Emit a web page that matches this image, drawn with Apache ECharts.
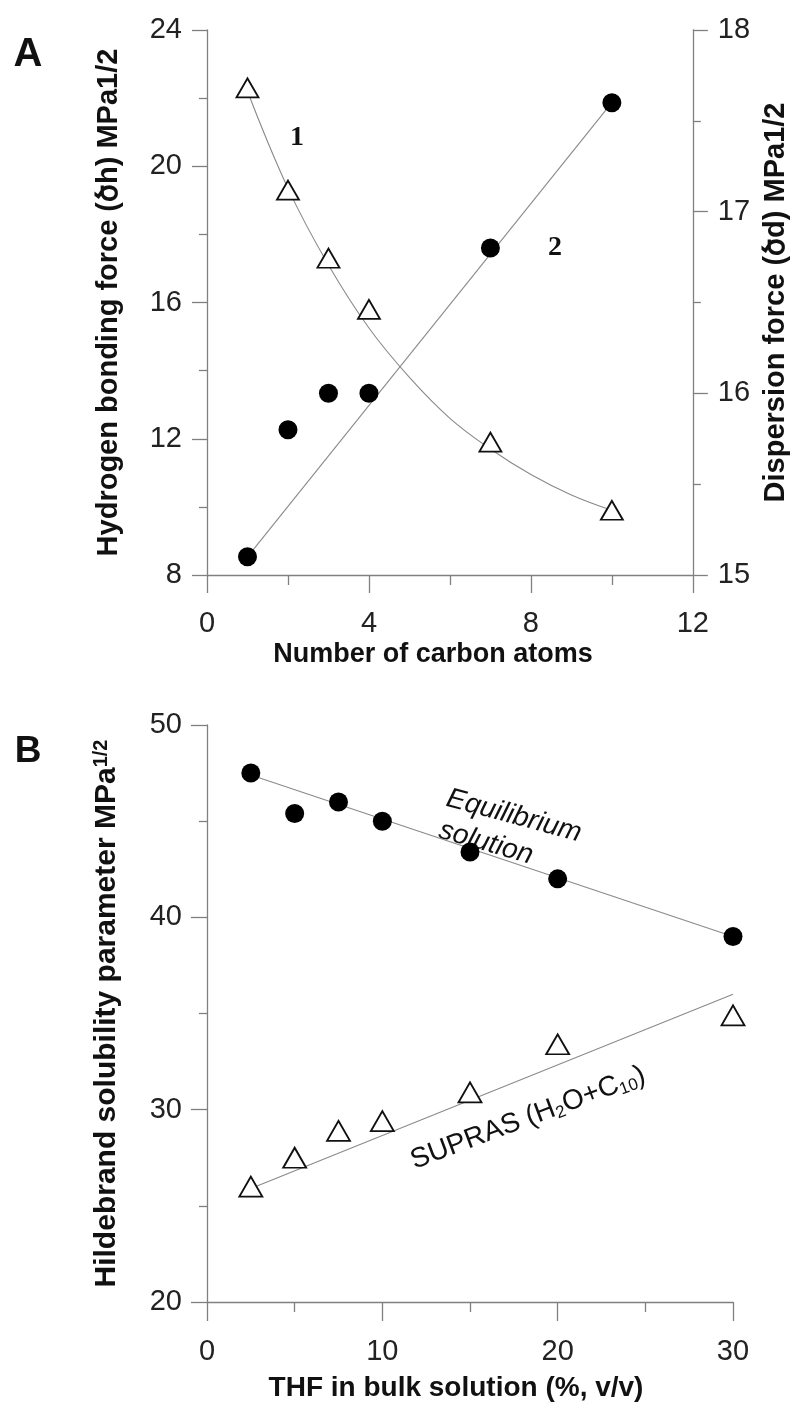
<!DOCTYPE html>
<html>
<head>
<meta charset="utf-8">
<script src="https://cdn.jsdelivr.net/npm/echarts@6/dist/echarts.min.js"></script>
<style>
  html, body { margin: 0; padding: 0; background: #fff; }
  #fig { width: 798px; height: 1407px; }
</style>
</head>
<body>
<div id="fig"></div>
<script>
// Panel A: alcohols, number of carbon atoms
var carbonAtoms = [1, 2, 3, 4, 7, 10];
var hydrogenBonding = [22.3, 19.3, 17.3, 15.8, 11.9, 9.9];   // triangles, left axis
var dispersion = [15.1, 15.8, 16.0, 16.0, 16.8, 17.6];        // circles, right axis
// fitted curves
var fit1X = [1, 2, 3, 4, 5, 6, 7, 8, 9, 10];
var fit1Y = [22.2, 19.35, 17.1, 15.25, 13.8, 12.6, 11.7, 10.95, 10.35, 9.9];
var fit2X = [1, 10];
var fit2Y = [15.1, 17.6];

// Panel B: THF content
var thf = [2.5, 5, 7.5, 10, 15, 20, 30];
var equilibrium = [47.5, 45.4, 46.0, 45.0, 43.4, 42.0, 39.0];
var supras = [26.0, 27.5, 28.9, 29.4, 30.9, 33.4, 34.9];
var fitEqX = [2.5, 30];
var fitEqY = [47.4, 39.0];
var fitSupX = [2.5, 30];
var fitSupY = [25.9, 36.0];

function pairs(xs, ys) {
  return xs.map(function (x, i) { return [x, ys[i]]; });
}

var FONT = "'Liberation Sans', Arial, sans-serif";
var AXIS_COLOR = '#808080';
var LINE_COLOR = '#8a8a8a';

function axis(extra, tickLen, minorLen) {
  var base = {
    type: 'value',
    axisLine: { show: true, onZero: false, lineStyle: { color: AXIS_COLOR, width: 1.3 } },
    axisTick: { show: true, length: tickLen, lineStyle: { color: AXIS_COLOR, width: 1.3 } },
    minorTick: { show: true, splitNumber: 2, length: minorLen, lineStyle: { color: AXIS_COLOR, width: 1.3 } },
    splitLine: { show: false },
    minorSplitLine: { show: false },
    axisLabel: { fontSize: 29, color: '#222', fontFamily: FONT, showMinLabel: true, showMaxLabel: true },
    nameLocation: 'middle',
    nameTextStyle: { fontSize: 28, fontWeight: 'bold', color: '#111', fontFamily: FONT }
  };
  for (var k in extra) {
    if (typeof extra[k] === 'object' && base[k] && !Array.isArray(extra[k])) {
      base[k] = Object.assign({}, base[k], extra[k]);
    } else {
      base[k] = extra[k];
    }
  }
  return base;
}

var triangle = {
  type: 'scatter', symbol: 'triangle', symbolSize: [22, 19], z: 5,
  itemStyle: { color: '#fff', borderColor: '#111', borderWidth: 1.8, opacity: 1 }
};
var dot = {
  type: 'scatter', symbol: 'circle', symbolSize: 19, z: 5,
  itemStyle: { color: '#000', opacity: 1 }
};
var fitLine = {
  type: 'line', showSymbol: false, symbol: 'none', z: 2, silent: true,
  lineStyle: { color: LINE_COLOR, width: 1.1 }
};

var option = {
  backgroundColor: '#fff',
  animation: false,
  grid: [
    { left: 207, top: 30, width: 496, height: 545 },
    { left: 207, top: 725, width: 526, height: 577 }
  ],
  xAxis: [
    axis({
      gridIndex: 0, min: 0, max: 12, interval: 4,
      axisLabel: { margin: 34 },
      name: 'Number of carbon atoms', nameGap: 66,
      nameTextStyle: { fontSize: 27, padding: [0, 34, 0, 0] }
    }, 18, 10),
    axis({
      gridIndex: 1, min: 0, max: 30, interval: 10,
      axisLabel: { margin: 35 },
      name: 'THF in bulk solution (%, v/v)', nameGap: 72,
      nameTextStyle: { fontSize: 28, padding: [0, 28, 0, 0] }
    }, 19, 10)
  ],
  yAxis: [
    axis({
      gridIndex: 0, min: 8, max: 24, interval: 4, position: 'left',
      axisLabel: { margin: 25 },
      name: 'Hydrogen bonding force (\u056Eh) MPa1/2', nameGap: 84, nameRotate: 90,
      nameTextStyle: { fontSize: 29 }
    }, 15, 8),
    axis({
      gridIndex: 0, min: 15, max: 18, interval: 1, position: 'right',
      axisLabel: { margin: 25 },
      name: 'Dispersion force (\u056Ed) MPa1/2', nameGap: 66, nameRotate: 90,
      nameTextStyle: { fontSize: 29 }
    }, 15, 8),
    axis({
      gridIndex: 1, min: 20, max: 50, interval: 10, position: 'left',
      axisLabel: { margin: 25 },
      name: '{t|Hildebrand solubility parameter MPa}{s|1/2}', nameGap: 84, nameRotate: 90,
      nameTextStyle: {
        rich: {
          t: { fontSize: 30, fontWeight: 'bold', color: '#111', fontFamily: FONT, lineHeight: 32 },
          s: { fontSize: 20, fontWeight: 'bold', color: '#111', fontFamily: FONT, lineHeight: 20, verticalAlign: 'top' }
        }
      }
    }, 16, 8)
  ],
  series: [
    Object.assign({}, fitLine, { xAxisIndex: 0, yAxisIndex: 0, smooth: 0.4, data: pairs(fit1X, fit1Y) }),
    Object.assign({}, fitLine, { xAxisIndex: 0, yAxisIndex: 1, data: pairs(fit2X, fit2Y) }),
    Object.assign({}, triangle, { name: 'hydrogen bonding', xAxisIndex: 0, yAxisIndex: 0, data: pairs(carbonAtoms, hydrogenBonding) }),
    Object.assign({}, dot, { name: 'dispersion', xAxisIndex: 0, yAxisIndex: 1, data: pairs(carbonAtoms, dispersion) }),

    Object.assign({}, fitLine, { xAxisIndex: 1, yAxisIndex: 2, data: pairs(fitEqX, fitEqY) }),
    Object.assign({}, fitLine, { xAxisIndex: 1, yAxisIndex: 2, data: pairs(fitSupX, fitSupY) }),
    Object.assign({}, dot, { name: 'Equilibrium solution', xAxisIndex: 1, yAxisIndex: 2, data: pairs(thf, equilibrium) }),
    Object.assign({}, triangle, { name: 'SUPRAS', xAxisIndex: 1, yAxisIndex: 2, symbolSize: [23, 20], data: pairs(thf, supras) })
  ],
  graphic: [
    { type: 'text', x: 28, y: 55, style: { text: 'A', font: 'bold 40px ' + FONT, fill: '#111', align: 'center', verticalAlign: 'middle' } },
    { type: 'text', x: 28, y: 752, style: { text: 'B', font: 'bold 37px ' + FONT, fill: '#111', align: 'center', verticalAlign: 'middle' } },
    { type: 'text', x: 297, y: 138, style: { text: '1', font: "bold 28px 'Liberation Serif', 'Times New Roman', serif", fill: '#111', align: 'center', verticalAlign: 'middle' } },
    { type: 'text', x: 555, y: 248, style: { text: '2', font: "bold 28px 'Liberation Serif', 'Times New Roman', serif", fill: '#111', align: 'center', verticalAlign: 'middle' } },
    { type: 'text', x: 514, y: 816, rotation: -15 * Math.PI / 180,
      style: { text: 'Equilibrium', font: 'italic 28px ' + FONT, fill: '#111', align: 'center', verticalAlign: 'middle' } },
    { type: 'text', x: 486, y: 843, rotation: -16 * Math.PI / 180,
      style: { text: 'solution', font: 'italic 28px ' + FONT, fill: '#111', align: 'center', verticalAlign: 'middle' } },
    { type: 'text', x: 528, y: 1118, rotation: 20.6 * Math.PI / 180,
      style: {
        text: '{a|SUPRAS (H}{b|2}{a|O+C}{b|10}{a|)}',
        align: 'center', verticalAlign: 'middle',
        rich: {
          a: { fontSize: 28, fontFamily: FONT, fill: '#111', lineHeight: 30 },
          b: { fontSize: 17, fontFamily: FONT, fill: '#111', lineHeight: 17, verticalAlign: 'bottom' }
        }
      }
    }
  ]
};

var chart = echarts.init(document.getElementById('fig'), null, { renderer: 'canvas' });
chart.setOption(option);
</script>
</body>
</html>
